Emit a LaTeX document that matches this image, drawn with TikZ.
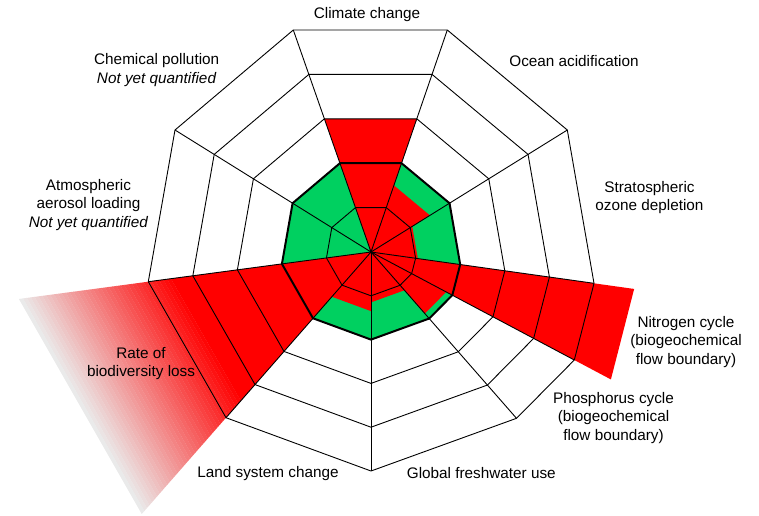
\documentclass[tikz,border=0pt]{standalone}
\usepackage{fontspec}
\setmainfont{Liberation Sans}
\usetikzlibrary{calc}
\definecolor{pbred}{RGB}{255,0,0}
\definecolor{pbgreen}{RGB}{0,208,96}
\definecolor{fadeend}{RGB}{234,234,234}
\begin{document}
\begin{tikzpicture}[x=1pt,y=-1pt,
  lbl/.style={font=\fontsize{15.3}{18.5}\selectfont, align=center, inner sep=0pt},
  gridline/.style={black, line width=0.9pt, line join=round},
  boundary/.style={black, line width=2pt, line join=round}]
\useasboundingbox (0,0) rectangle (759,515);
\coordinate (C) at (371,252);
\coordinate (P1) at (293.3,30);
\coordinate (P2) at (447.3,30);
\coordinate (P3) at (567.3,130);
\coordinate (P4) at (594,283.3);
\coordinate (PM) at (574.3,360);
\coordinate (P5) at (516.5,418.3);
\coordinate (P6) at (371,471);
\coordinate (P7) at (226,417.7);
\coordinate (P8) at (148.3,281.7);
\coordinate (P9) at (175,130);
% safe operating space
\fill[pbgreen] ($(C)!0.4!(P1)$) -- ($(C)!0.4!(P2)$) -- ($(C)!0.4!(P3)$) -- ($(C)!0.4!(P4)$) -- ($(C)!0.4!(PM)$) -- ($(C)!0.4!(P5)$) -- ($(C)!0.4!(P6)$) -- ($(C)!0.4!(P7)$) -- ($(C)!0.4!(P8)$) -- ($(C)!0.4!(P9)$) -- cycle;
% biodiversity gradient
\foreach \i in {0,...,39} {
  \pgfmathsetmacro\fa{0.88+\i*0.0175}
  \pgfmathsetmacro\fb{\fa+0.0185}
  \pgfmathsetmacro\pc{max(0,100-\i*2.564)}
  \fill[red!\pc!fadeend] ($(C)!\fa!(P7)$) -- ($(C)!\fb!(P7)$) -- ($(C)!\fb!(P8)$) -- ($(C)!\fa!(P8)$) -- cycle;
}
% current positions
\fill[pbred] (C) -- ($(C)!0.6!(P1)$) -- ($(C)!0.6!(P2)$) -- cycle;
\fill[pbred] (C) -- ($(C)!0.3!(P2)$) -- ($(C)!0.3!(P3)$) -- cycle;
\fill[pbred] (C) -- ($(C)!0.21!(P3)$) -- ($(C)!0.21!(P4)$) -- cycle;
\fill[pbred] (C) -- ($(C)!1.18!(P4)$) -- ($(C)!1.18!(PM)$) -- cycle;
\fill[pbred] (C) -- ($(C)!0.37!(PM)$) -- ($(C)!0.37!(P5)$) -- cycle;
\fill[pbred] (C) -- ($(C)!0.23!(P5)$) -- ($(C)!0.23!(P6)$) -- cycle;
\fill[pbred] (C) -- ($(C)!0.27!(P6)$) -- ($(C)!0.27!(P7)$) -- cycle;
\fill[pbred] (C) -- ($(C)!0.885!(P7)$) -- ($(C)!0.885!(P8)$) -- cycle;
% grid
\foreach \p in {P1,P2,P3,P4,PM,P5,P6,P7,P8,P9}
  \draw[gridline] (C) -- (\p);
\foreach \f in {0.2,0.6,0.8,1}
  \draw[gridline] ($(C)!\f!(P1)$) -- ($(C)!\f!(P2)$) -- ($(C)!\f!(P3)$) -- ($(C)!\f!(P4)$) -- ($(C)!\f!(PM)$) -- ($(C)!\f!(P5)$) -- ($(C)!\f!(P6)$) -- ($(C)!\f!(P7)$) -- ($(C)!\f!(P8)$) -- ($(C)!\f!(P9)$) -- cycle;
\draw[boundary] ($(C)!0.4!(P1)$) -- ($(C)!0.4!(P2)$) -- ($(C)!0.4!(P3)$) -- ($(C)!0.4!(P4)$) -- ($(C)!0.4!(PM)$) -- ($(C)!0.4!(P5)$) -- ($(C)!0.4!(P6)$) -- ($(C)!0.4!(P7)$) -- ($(C)!0.4!(P8)$) -- ($(C)!0.4!(P9)$) -- cycle;
% labels
\node[lbl] (cc) at (367,15) {Climate change};
\node[lbl] (oa) at (574,61) {Ocean acidification};
\node[lbl] (oz) at (649.5,197.5) {Stratospheric\\ozone depletion};
\node[lbl] (ni) at (686,342) {Nitrogen cycle\\(biogeochemical\\flow boundary)};
\node[lbl] (ph) at (613.5,418) {Phosphorus cycle\\(biogeochemical\\flow boundary)};
\node[lbl] (fw) at (481.3,473.3) {Global freshwater use};
\node[lbl] (ls) at (268,473.3) {Land system change};
\node[lbl] (bd) at (141,363.3) {Rate of\\biodiversity loss};
\node[lbl] (ae) at (88.5,205) {Atmospheric\\aerosol loading\\\textit{Not yet quantified}};
\node[lbl] (cp) at (156.7,70) {Chemical pollution\\\textit{Not yet quantified}};
\end{tikzpicture}
\end{document}
